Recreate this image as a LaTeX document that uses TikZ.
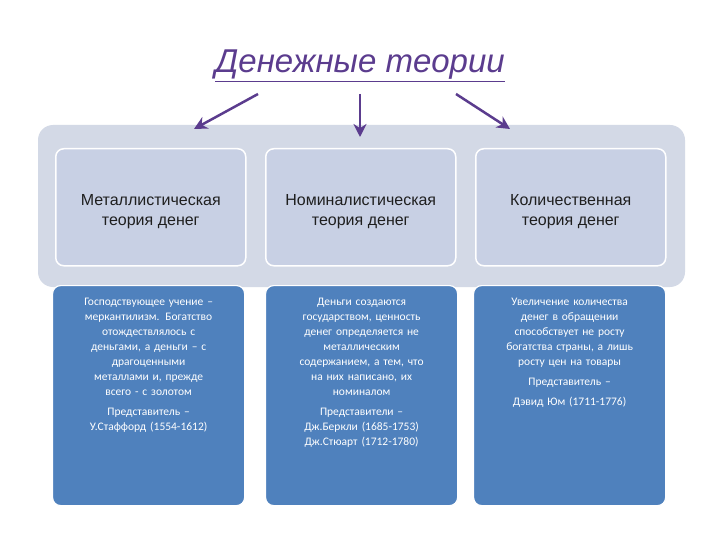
\documentclass[tikz,border=0pt]{standalone}
\usepackage{fontspec}
\setmainfont{Carlito}
\newfontfamily\hdr{Liberation Sans}
\usetikzlibrary{arrows.meta}
\definecolor{titlec}{HTML}{5B3C8E}
\definecolor{panel}{HTML}{D3D9E6}
\definecolor{hbox}{HTML}{C8D0E4}
\definecolor{bbox}{HTML}{4F81BD}
\definecolor{htext}{HTML}{1F1F1F}
\tikzset{
 x=1pt,y=-1pt,
 arr/.style={titlec,line width=2.5pt,-{Stealth[length=13pt,width=13pt]}},
 headbox/.style={draw=white,line width=1.5pt,fill=hbox,rounded corners=8pt,minimum width=190pt,minimum height=117pt,anchor=north west,inner sep=0pt},
 bodybox/.style={draw=white,line width=1.2pt,fill=bbox,rounded corners=8pt,minimum width=192pt,minimum height=220pt,anchor=north west,inner sep=0pt},
 htxt/.style={font=\hdr\fontsize{16}{20}\selectfont,text=htext,align=center},
 btxt/.style={font=\fontsize{11.5}{15}\selectfont,text=white,align=center,anchor=north,text width=186pt}
}
\begin{document}
\begin{tikzpicture}
\useasboundingbox (0,0) rectangle (720,540);
\fill[white] (0,0) rectangle (720,540);
\node[font=\hdr\itshape\fontsize{33}{38}\selectfont,text=titlec] (title) at (360,66) {\underline{Денежные теории}};
\fill[panel,rounded corners=15pt] (38,125) rectangle (685,287);
\node[headbox] (h1) at (55,148) {};
\node[headbox] (h2) at (265,148) {};
\node[headbox] (h3) at (475,148) {};
\node[htxt] at ([yshift=-4pt]h1.center) {Металлистическая\\теория денег};
\node[htxt] at ([yshift=-4pt]h2.center) {Номиналистическая\\теория денег};
\node[htxt] at ([yshift=-4pt]h3.center) {Количественная\\теория денег};
\node[bodybox] (b1) at (52,285) {};
\node[bodybox] (b2) at (265,285) {};
\node[bodybox] (b3) at (473,285) {};
\node[btxt] (t1) at ([yshift=-10pt]b1.north) {Господствующее учение –\\меркантилизм. Богатство\\отождествлялось с\\деньгами, а деньги – с\\драгоценными\\металлами и, прежде\\всего - с золотом\\[5pt]Представитель –\\У.Стаффорд (1554-1612)};
\node[btxt] (t2) at ([yshift=-10pt]b2.north) {Деньги создаются\\государством, ценность\\денег определяется не\\металлическим\\содержанием, а тем, что\\на них написано, их\\номиналом\\[5pt]Представители –\\Дж.Беркли (1685-1753)\\Дж.Стюарт (1712-1780)};
\node[btxt] (t3) at ([yshift=-10pt]b3.north) {Увеличение количества\\денег в обращении\\способствует не росту\\богатства страны, а лишь\\росту цен на товары\\[5pt]Представитель –\\[5pt]Дэвид Юм (1711-1776)};
\coordinate (a1s) at (258,94); \coordinate (a1e) at (194,129);
\coordinate (a2s) at (360,94); \coordinate (a2e) at (360,137);
\coordinate (a3s) at (456,94); \coordinate (a3e) at (510,129);
\draw[arr] (a1s) -- (a1e);
\draw[arr] (a2s) -- (a2e);
\draw[arr] (a3s) -- (a3e);
\end{tikzpicture}
\end{document}
